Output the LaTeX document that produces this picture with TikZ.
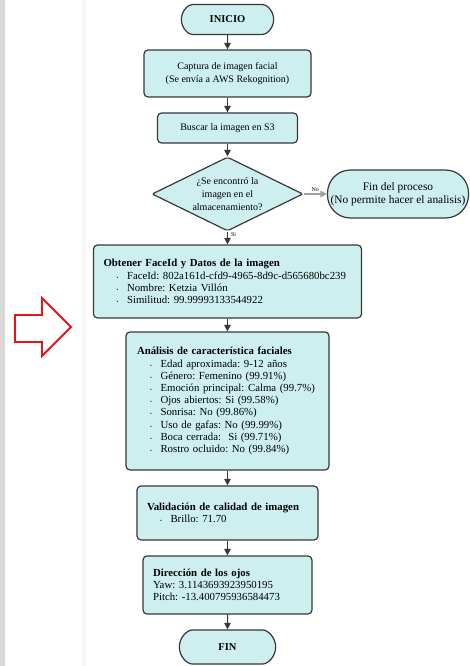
\documentclass[tikz,border=0pt]{standalone}
\usepackage{fontspec}
\setmainfont{Liberation Serif}
\usetikzlibrary{shapes.geometric,shapes.misc,arrows.meta}

\definecolor{cajaazul}{HTML}{CDEFEF}
\definecolor{borde}{HTML}{383838}
\definecolor{flecharoja}{HTML}{E8141B}

\frenchspacing

% vineta de las listas
\newcommand{\punto}{\hspace*{13pt}\makebox[10.5pt][l]{\tiny\textbullet}}

\tikzset{
    caja/.style={draw=borde, fill=cajaazul, line width=1.2pt, rounded corners=4pt,
        align=center, font=\fontsize{10}{13.5}\selectfont},
    lista/.style={caja, align=left, inner xsep=10pt, font=\fontsize{10.8}{12.2}\selectfont},
    terminal/.style={caja, rounded rectangle, font=\fontsize{10.5}{13}\selectfont\bfseries},
    decision/.style={caja, diamond, aspect=2, inner sep=0pt, rounded corners=2pt,
        font=\fontsize{10}{12.7}\selectfont},
    flecha/.style={draw=borde, line width=1pt, -{Triangle[length=6.5pt,width=6.5pt]}},
    etiqueta/.style={font=\fontsize{6}{6}\selectfont, inner sep=1pt}
}

\begin{document}
\begin{tikzpicture}[x=1pt, y=-1pt]
    \useasboundingbox (0,0) rectangle (470,666);
    \fill[white] (0,0) rectangle (470,666);
    \fill[gray!30] (0,0) rectangle (5,666);
    \fill[gray!6] (82,0) rectangle (86,666);

    % flecha roja de la izquierda
    \draw[flecharoja, line width=1.8pt, fill=white, line join=miter]
        (15,315) -- (42,315) -- (42,298) -- (71,327) -- (42,356) -- (42,342) -- (15,342) -- cycle;

    \node[terminal, minimum width=99pt, minimum height=30pt] (inicio) at (227.5,19.5) {INICIO};
    \node[caja, minimum width=167pt, minimum height=47pt] (captura) at (227.5,73.5)
        {Captura de imagen facial\\(Se envía a AWS Rekognition)};
    \node[caja, minimum width=140pt, minimum height=30pt] (buscar) at (227.5,128) {Buscar la imagen en S3};
    \node[decision, minimum width=151pt, minimum height=74pt] (encontro) at (227.5,194)
        {¿Se encontró la\\imagen en el\\almacenamiento?};
    \node[caja, rounded corners=23pt, inner xsep=2pt, minimum width=141pt, minimum height=48pt,
        font=\fontsize{11.4}{13}\selectfont] (finproceso) at (398,194)
        {Fin del proceso\\(No permite hacer el analisis)};

    \node[lista, text width=248pt, minimum height=73pt] (obtener) at (227.5,281.5)
        {\textbf{Obtener FaceId y Datos de la imagen}\\
        \punto FaceId: 802a161d-cfd9-4965-8d9c-d565680bc239\\
        \punto Nombre: Ketzia Villón\\
        \punto Similitud: 99.99993133544922};
    \node[lista, inner xsep=11pt, text width=181pt, minimum height=138pt] (analisis) at (227.5,401)
        {\textbf{Análisis de característica faciales}\\
        \punto Edad aproximada: 9-12 años\\
        \punto Género: Femenino (99.91\%)\\
        \punto Emoción principal: Calma (99.7\%)\\
        \punto Ojos abiertos: Si (99.58\%)\\
        \punto Sonrisa: No (99.86\%)\\
        \punto Uso de gafas: No (99.99\%)\\
        \punto Boca cerrada:\ \ Si (99.71\%)\\
        \punto Rostro ocluido: No (99.84\%)};
    \node[lista, text width=161pt, minimum height=54pt] (validacion) at (227.5,513)
        {\textbf{Validación de calidad de imagen}\\
        \punto Brillo: 71.70};
    \node[lista, text width=149pt, minimum height=58pt] (direccion) at (227.5,585)
        {\textbf{Dirección de los ojos}\\
        Yaw: 3.1143693923950195\\
        Pitch: -13.400795936584473};
    \node[terminal, minimum width=103pt, minimum height=34pt] (fin) at (227.5,647) {FIN};

    \draw[flecha] (inicio) -- (captura);
    \draw[flecha] (captura) -- (buscar);
    \draw[flecha] (buscar) -- (encontro);
    \draw[flecha, draw=gray!75, line width=1.4pt] (encontro.east) -- node[etiqueta, above=1pt, pos=0.5] {No} (finproceso.west);
    \draw[flecha] (encontro.south) -- node[etiqueta, right=2pt, pos=0.2] {Si} (obtener.north);
    \draw[flecha] (obtener) -- (analisis);
    \draw[flecha] (analisis) -- (validacion);
    \draw[flecha] (validacion) -- (direccion);
    \draw[flecha] (direccion) -- (fin);
\end{tikzpicture}
\end{document}
